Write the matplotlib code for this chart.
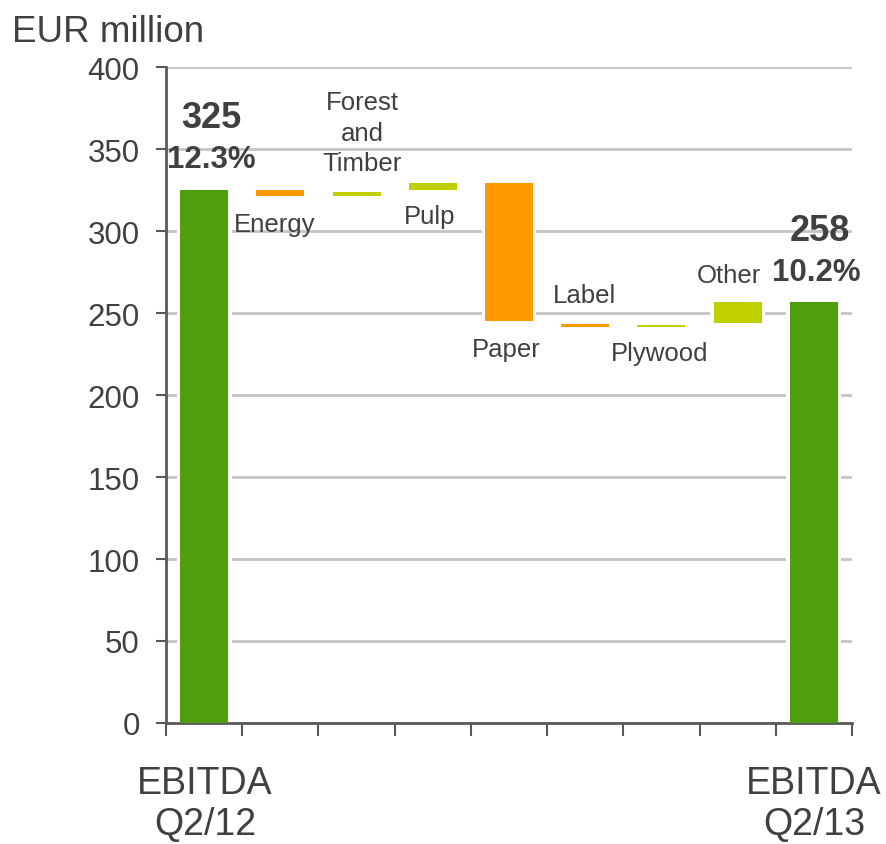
import matplotlib
matplotlib.use("Agg")
from matplotlib import pyplot as plt
import numpy as np

# Data (EUR million)
steps = ["EBITDA\nQ2/12", "Energy", "Forest\nand\nTimber", "Pulp", "Paper",
         "Label", "Plywood", "Other", "EBITDA\nQ2/13"]
bar_low = [0, 321.5, 321.5, 325, 245, 241.5, 241.3, 244, 0]
bar_high = [325, 325, 323.5, 329.5, 329.5, 243.5, 242.5, 257, 257]
kind = ["total", "neg", "pos", "pos", "neg", "neg", "pos", "pos", "total"]
totals = ["325", "258"]
margins = ["12.3%", "10.2%"]

colors = {"total": "#4F9F0D", "neg": "#FF9900", "pos": "#C0CF00"}
txt = "#404040"
axc = "#595959"

plt.rcParams["font.family"] = ["Liberation Sans", "DejaVu Sans"]

fig = plt.figure(figsize=(8.86, 8.45), dpi=100)
ax = fig.add_axes([0.1874, 0.1432, 0.7742, 0.7763])

x = np.arange(len(steps))
heights = np.array(bar_high) - np.array(bar_low)
# white backing bar leaves a small gap in the gridlines on both sides
ax.bar(x, heights, bottom=bar_low, width=0.72, color="white", linewidth=0, zorder=2)
ax.bar(x, heights, bottom=bar_low, width=0.63,
       color=[colors[k] for k in kind], linewidth=0, zorder=3)

ax.set_xlim(-0.5, 8.5)
ax.set_ylim(0, 400)
ax.set_yticks(np.arange(0, 401, 50))
ax.yaxis.grid(True, color="#C4C4C4", linewidth=2, zorder=0)
ax.set_axisbelow(True)
ax.set_xticks(np.arange(-0.5, 9, 1))
ax.set_xticklabels([])
ax.tick_params(axis="y", length=7, width=1.5, color=axc, labelsize=22.5,
               labelcolor=txt, pad=12)
ax.tick_params(axis="x", length=9, width=1.5, color=axc)
for s in ["top", "right"]:
    ax.spines[s].set_visible(False)
for s in ["left", "bottom"]:
    ax.spines[s].set_color(axc)
    ax.spines[s].set_linewidth(2)

# step labels
lab_pos = {1: (0.93, 304), 2: (2.07, 360), 3: (2.96, 309), 4: (3.97, 228),
           5: (4.99, 261), 6: (5.98, 225.5), 7: (6.89, 273)}
for i, (lx, ly) in lab_pos.items():
    ax.text(lx, ly, steps[i], ha="center", va="center", fontsize=18.5,
            color=txt, linespacing=1.35, zorder=5)

# totals and margins
ax.text(0.09, 369, totals[0], ha="center", va="center", fontsize=26,
        fontweight="bold", color=txt, zorder=5)
ax.text(0.09, 344, margins[0], ha="center", va="center", fontsize=22.5,
        fontweight="bold", color=txt, zorder=5)
ax.text(8.08, 300.5, totals[1], ha="center", va="center", fontsize=26,
        fontweight="bold", color=txt, zorder=5)
ax.text(8.03, 275, margins[1], ha="center", va="center", fontsize=22.5,
        fontweight="bold", color=txt, zorder=5)

# EBITDA axis labels
for i, lx in [(0, 0.01), (8, 8.0)]:
    ax.text(lx, -49, steps[i], ha="center", va="center", fontsize=27,
            color=txt, linespacing=1.2, clip_on=False)

fig.text(12 / 886, 1 - 42 / 845, "EUR million", ha="left", va="baseline",
         fontsize=26.5, color=txt)

fig.savefig("out.png", dpi=100)
